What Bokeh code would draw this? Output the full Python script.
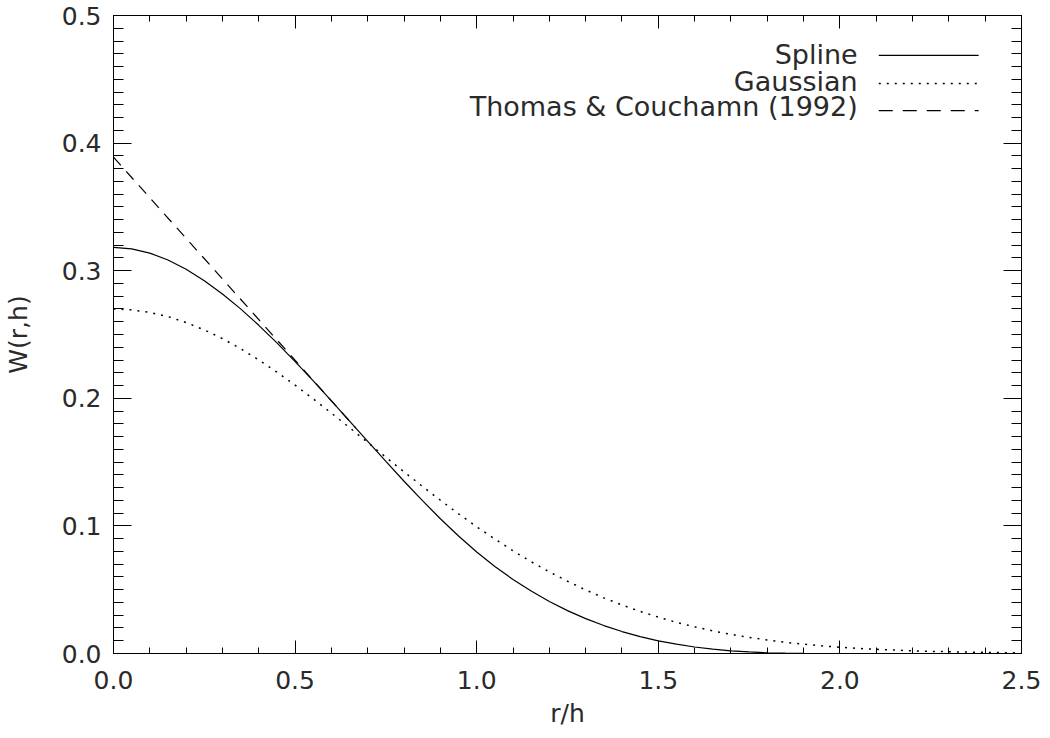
from bokeh.plotting import figure
from bokeh.models import FixedTicker, LinearAxis, PrintfTickFormatter, CustomJSTickFormatter, Range1d
from bokeh.core.properties import value
from bokeh.embed import file_html
from bokeh.resources import INLINE

# ---- data ----
r_grid = [0.00, 0.05, 0.10, 0.15, 0.20, 0.25, 0.30, 0.35, 0.40, 0.45,
          0.50, 0.55, 0.60, 0.65, 0.70, 0.75, 0.80, 0.85, 0.90, 0.95,
          1.00, 1.05, 1.10, 1.15, 1.20, 1.25, 1.30, 1.35, 1.40, 1.45,
          1.50, 1.55, 1.60, 1.65, 1.70, 1.75, 1.80, 1.85, 1.90, 1.95,
          2.00, 2.05, 2.10, 2.15, 2.20, 2.25, 2.30, 2.35, 2.40, 2.45, 2.50]
spline = [0.3183, 0.3171, 0.3138, 0.3084, 0.3011, 0.2922, 0.2818, 0.2701, 0.2572, 0.2434,
          0.2288, 0.2136, 0.1980, 0.1821, 0.1662, 0.1505, 0.1350, 0.1200, 0.1056, 0.0921,
          0.0796, 0.0682, 0.0580, 0.0489, 0.0407, 0.0336, 0.0273, 0.0219, 0.0172, 0.0132,
          0.0099, 0.0073, 0.0051, 0.0034, 0.0021, 0.0012, 0.0006, 0.0003, 0.0001, 0.0000,
          0.0, 0.0, 0.0, 0.0, 0.0, 0.0, 0.0, 0.0, 0.0, 0.0, 0.0]
gaussian = [0.2700, 0.2693, 0.2673, 0.2640, 0.2594, 0.2536, 0.2468, 0.2389, 0.2301, 0.2205,
            0.2103, 0.1995, 0.1884, 0.1770, 0.1654, 0.1538, 0.1424, 0.1311, 0.1201, 0.1095,
            0.0993, 0.0897, 0.0805, 0.0719, 0.0640, 0.0566, 0.0498, 0.0436, 0.0380, 0.0330,
            0.0285, 0.0244, 0.0209, 0.0177, 0.0150, 0.0126, 0.0106, 0.0088, 0.0073, 0.0060,
            0.0049, 0.0040, 0.0033, 0.0027, 0.0021, 0.0017, 0.0014, 0.0011, 0.0009, 0.0007, 0.0005]
tc_r = [0.0, 0.6667]
tc_w = [0.3890, 0.1768]

x_ticks = [0.0, 0.5, 1.0, 1.5, 2.0, 2.5]
x_minor = [round(0.1 * i, 2) for i in range(26)]
y_ticks = [0.0, 0.1, 0.2, 0.3, 0.4, 0.5]
y_minor = [round(0.01 * i, 2) for i in range(51)]

legend_labels = ["Spline", "Gaussian", "Thomas & Couchamn (1992)"]

FONT = "DejaVu Sans"
INK = "#2a2a2a"

p = figure(width=1050, height=738, output_backend="svg", toolbar_location=None,
           x_range=Range1d(0, 2.5), y_range=Range1d(0, 0.5),
           min_border_left=113, min_border_right=29, min_border_top=15, min_border_bottom=85,
           x_axis_label="r/h", y_axis_label="W(r,h)")
p.grid.visible = False
p.outline_line_color = "black"
p.outline_line_width = 1
p.background_fill_color = "white"
p.border_fill_color = "white"

def style_axis(ax, ticks, minor, major_len, minor_len, labels=True):
    ax.ticker = FixedTicker(ticks=ticks, minor_ticks=minor)
    ax.major_tick_in = major_len
    ax.major_tick_out = 0
    ax.minor_tick_in = minor_len
    ax.minor_tick_out = 0
    ax.axis_line_color = "black"
    ax.major_tick_line_color = "black"
    ax.minor_tick_line_color = "black"
    ax.major_label_text_font = FONT
    ax.major_label_text_font_size = "25px"
    ax.major_label_text_color = INK
    ax.axis_label_text_font = FONT
    ax.axis_label_text_font_size = "25px"
    ax.axis_label_text_font_style = "normal"
    ax.axis_label_text_color = INK
    if labels:
        ax.formatter = PrintfTickFormatter(format="%.1f")
    else:
        ax.formatter = CustomJSTickFormatter(code="return ''")
        ax.major_label_standoff = 0

xa = p.xaxis[0]
ya = p.yaxis[0]
style_axis(xa, x_ticks, x_minor, 13, 6)
style_axis(ya, y_ticks, y_minor, 18, 10)
xa.major_label_standoff = 17
xa.axis_label_standoff = 7
ya.major_label_standoff = 12
ya.axis_label_standoff = 26

top = LinearAxis()
right = LinearAxis()
style_axis(top, x_ticks, x_minor, 13, 6, labels=False)
style_axis(right, y_ticks, y_minor, 18, 10, labels=False)
p.add_layout(top, "above")
p.add_layout(right, "right")

# curves
p.line(r_grid, spline, line_color="black", line_width=1.2)
p.line(r_grid, gaussian, line_color="black", line_width=1.5, line_dash="2 6")
p.line(tc_r, tc_w, line_color="black", line_width=1.2, line_dash="11 8")

# legend (text on the left, sample line on the right)
lx_text = 2.049
lx0, lx1 = 2.107, 2.382
text_y = [0.4694, 0.4479, 0.4283]
line_y = [0.4687, 0.4467, 0.4255]
p.text(x=[lx_text] * 3, y=text_y, text=legend_labels, text_align="right",
       text_baseline="middle", text_font=value(FONT), text_font_size="27px", text_color=INK)
p.line([lx0, lx1], [line_y[0]] * 2, line_color="black", line_width=1.2)
p.line([lx0, lx1], [line_y[1]] * 2, line_color="black", line_width=1.5, line_dash="2 6")
p.line([lx0, lx1], [line_y[2]] * 2, line_color="black", line_width=1.2, line_dash="14 10")

open("out.html", "w").write(file_html(p, INLINE))
